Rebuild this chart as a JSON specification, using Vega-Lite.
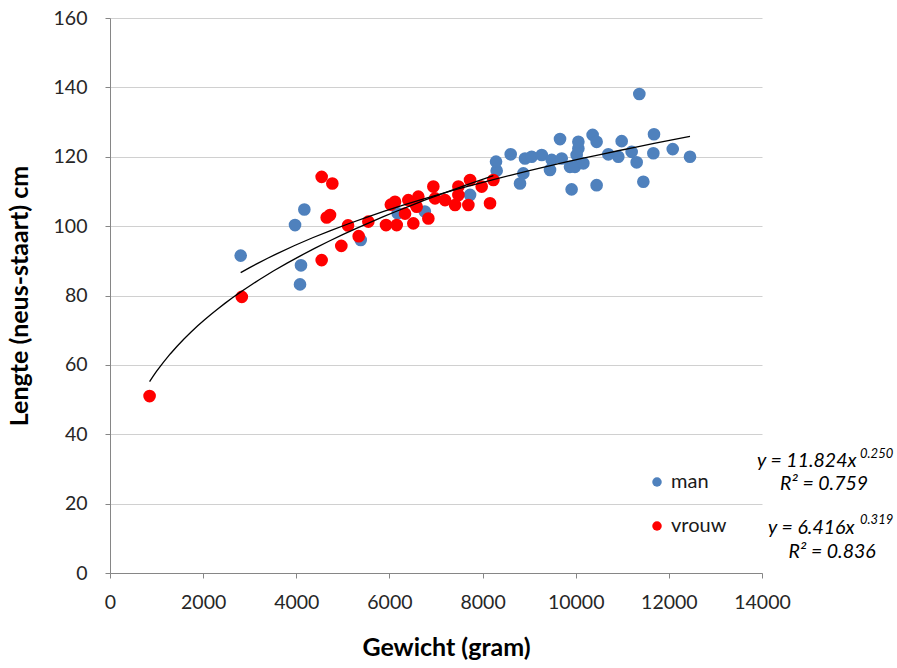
{
  "$schema": "https://vega.github.io/schema/vega-lite/v6.json",
  "width": 652,
  "height": 555,
  "autosize": {"type": "none"},
  "padding": {"left": 110, "top": 18, "right": 135, "bottom": 95},
  "background": "white",
  "config": {
    "view": {"stroke": null},
    "font": "Lato",
    "axis": {
      "labelFont": "Lato",
      "titleFont": "Lato",
      "labelColor": "#262626",
      "titleColor": "#000000",
      "domainColor": "#868686",
      "tickColor": "#868686",
      "gridColor": "#d0d0d0",
      "labelFontSize": 19.5,
      "titleFontSize": 25,
      "titleFontWeight": "bold",
      "labelFlush": false
    }
  },
  "datasets": {
    "dieren": [
      {"geslacht": "man", "gewicht": 2806, "lengte": 91.5},
      {"geslacht": "man", "gewicht": 3973, "lengte": 100.3},
      {"geslacht": "man", "gewicht": 4173, "lengte": 104.8},
      {"geslacht": "man", "gewicht": 4101, "lengte": 88.7},
      {"geslacht": "man", "gewicht": 4080, "lengte": 83.2},
      {"geslacht": "man", "gewicht": 5383, "lengte": 96.0},
      {"geslacht": "man", "gewicht": 6178, "lengte": 103.7},
      {"geslacht": "man", "gewicht": 6760, "lengte": 104.2},
      {"geslacht": "man", "gewicht": 7731, "lengte": 109.0},
      {"geslacht": "man", "gewicht": 8303, "lengte": 116.0},
      {"geslacht": "man", "gewicht": 8289, "lengte": 118.6},
      {"geslacht": "man", "gewicht": 8604, "lengte": 120.7},
      {"geslacht": "man", "gewicht": 8804, "lengte": 112.3},
      {"geslacht": "man", "gewicht": 8875, "lengte": 115.2},
      {"geslacht": "man", "gewicht": 8911, "lengte": 119.5},
      {"geslacht": "man", "gewicht": 9054, "lengte": 120.0},
      {"geslacht": "man", "gewicht": 9270, "lengte": 120.5},
      {"geslacht": "man", "gewicht": 9448, "lengte": 116.2},
      {"geslacht": "man", "gewicht": 9484, "lengte": 119.1},
      {"geslacht": "man", "gewicht": 9663, "lengte": 125.1},
      {"geslacht": "man", "gewicht": 9699, "lengte": 119.5},
      {"geslacht": "man", "gewicht": 9877, "lengte": 117.1},
      {"geslacht": "man", "gewicht": 9912, "lengte": 110.6},
      {"geslacht": "man", "gewicht": 9984, "lengte": 117.1},
      {"geslacht": "man", "gewicht": 10020, "lengte": 120.5},
      {"geslacht": "man", "gewicht": 10057, "lengte": 122.4},
      {"geslacht": "man", "gewicht": 10057, "lengte": 124.3},
      {"geslacht": "man", "gewicht": 10164, "lengte": 118.1},
      {"geslacht": "man", "gewicht": 10363, "lengte": 126.3},
      {"geslacht": "man", "gewicht": 10449, "lengte": 124.3},
      {"geslacht": "man", "gewicht": 10449, "lengte": 111.8},
      {"geslacht": "man", "gewicht": 10700, "lengte": 120.7},
      {"geslacht": "man", "gewicht": 10915, "lengte": 120.0},
      {"geslacht": "man", "gewicht": 10987, "lengte": 124.5},
      {"geslacht": "man", "gewicht": 11201, "lengte": 121.4},
      {"geslacht": "man", "gewicht": 11309, "lengte": 118.4},
      {"geslacht": "man", "gewicht": 11366, "lengte": 138.1},
      {"geslacht": "man", "gewicht": 11452, "lengte": 112.8},
      {"geslacht": "man", "gewicht": 11667, "lengte": 121.0},
      {"geslacht": "man", "gewicht": 11681, "lengte": 126.5},
      {"geslacht": "man", "gewicht": 12083, "lengte": 122.2},
      {"geslacht": "man", "gewicht": 12454, "lengte": 120.0},
      {"geslacht": "vrouw", "gewicht": 850, "lengte": 51.0},
      {"geslacht": "vrouw", "gewicht": 2830, "lengte": 79.6},
      {"geslacht": "vrouw", "gewicht": 4545, "lengte": 114.2},
      {"geslacht": "vrouw", "gewicht": 4774, "lengte": 112.3},
      {"geslacht": "vrouw", "gewicht": 4653, "lengte": 102.5},
      {"geslacht": "vrouw", "gewicht": 4724, "lengte": 103.2},
      {"geslacht": "vrouw", "gewicht": 4545, "lengte": 90.2},
      {"geslacht": "vrouw", "gewicht": 4967, "lengte": 94.3},
      {"geslacht": "vrouw", "gewicht": 5111, "lengte": 100.2},
      {"geslacht": "vrouw", "gewicht": 5340, "lengte": 97.1},
      {"geslacht": "vrouw", "gewicht": 5547, "lengte": 101.3},
      {"geslacht": "vrouw", "gewicht": 5927, "lengte": 100.3},
      {"geslacht": "vrouw", "gewicht": 6156, "lengte": 100.3},
      {"geslacht": "vrouw", "gewicht": 6030, "lengte": 106.2},
      {"geslacht": "vrouw", "gewicht": 6120, "lengte": 107.0},
      {"geslacht": "vrouw", "gewicht": 6406, "lengte": 107.5},
      {"geslacht": "vrouw", "gewicht": 6621, "lengte": 108.5},
      {"geslacht": "vrouw", "gewicht": 6585, "lengte": 105.6},
      {"geslacht": "vrouw", "gewicht": 6549, "lengte": 106.6},
      {"geslacht": "vrouw", "gewicht": 6335, "lengte": 103.6},
      {"geslacht": "vrouw", "gewicht": 6513, "lengte": 100.8},
      {"geslacht": "vrouw", "gewicht": 6836, "lengte": 102.2},
      {"geslacht": "vrouw", "gewicht": 6943, "lengte": 111.4},
      {"geslacht": "vrouw", "gewicht": 6979, "lengte": 108.0},
      {"geslacht": "vrouw", "gewicht": 7194, "lengte": 107.5},
      {"geslacht": "vrouw", "gewicht": 7409, "lengte": 106.1},
      {"geslacht": "vrouw", "gewicht": 7481, "lengte": 111.4},
      {"geslacht": "vrouw", "gewicht": 7481, "lengte": 109.0},
      {"geslacht": "vrouw", "gewicht": 7731, "lengte": 113.3},
      {"geslacht": "vrouw", "gewicht": 7695, "lengte": 106.1},
      {"geslacht": "vrouw", "gewicht": 7981, "lengte": 111.4},
      {"geslacht": "vrouw", "gewicht": 8160, "lengte": 106.6},
      {"geslacht": "vrouw", "gewicht": 8232, "lengte": 113.3}
    ],
    "vergelijkingen": [
      {"hoofd": "y = 11.824x", "exponent": "0.250", "r2": "R² = 0.759", "xh": 13893, "yh": 32.4, "xe": 16105, "ye": 34.4, "xr": 15332, "yr": 25.7},
      {"hoofd": "y = 6.416x", "exponent": "0.319", "r2": "R² = 0.836", "xh": 14130, "yh": 13.0, "xe": 16105, "ye": 15.2, "xr": 15504, "yr": 6.1}
    ]
  },
  "layer": [
    {
      "data": {"name": "dieren"},
      "mark": {"type": "circle", "size": 160, "opacity": 1},
      "encoding": {
        "x": {
          "field": "gewicht", "type": "quantitative",
          "scale": {"domain": [0, 14000], "nice": false},
          "axis": {
            "title": "Gewicht (gram)", "values": [0, 2000, 4000, 6000, 8000, 10000, 12000, 14000],
            "grid": false, "tickSize": 5, "labelPadding": 15, "titlePadding": 24, "format": "d", "titleX": 336
          }
        },
        "y": {
          "field": "lengte", "type": "quantitative",
          "scale": {"domain": [0, 160], "nice": false},
          "axis": {
            "title": "Lengte (neus-staart) cm", "values": [0, 20, 40, 60, 80, 100, 120, 140, 160],
            "grid": true, "tickSize": 5, "labelPadding": 18, "titlePadding": 21
          }
        },
        "color": {
          "field": "geslacht", "type": "nominal",
          "scale": {"domain": ["man", "vrouw"], "range": ["#4F81BD", "#FF0000"]},
          "legend": {
            "title": null, "orient": "none", "legendX": 537, "legendY": 454,
            "symbolType": "circle", "symbolSize": 90, "labelFontSize": 20,
            "labelFont": "Lato", "labelColor": "#1a1a1a", "rowPadding": 24, "labelOffset": 4
          }
        }
      }
    },
    {
      "data": {"name": "dieren"},
      "transform": [
        {"regression": "lengte", "on": "gewicht", "groupby": ["geslacht"], "method": "pow"}
      ],
      "mark": {"type": "line", "color": "#000000", "strokeWidth": 1.3},
      "encoding": {
        "x": {"field": "gewicht", "type": "quantitative"},
        "y": {"field": "lengte", "type": "quantitative"},
        "detail": {"field": "geslacht"}
      }
    },
    {
      "data": {"name": "vergelijkingen"},
      "mark": {"type": "text", "align": "left", "baseline": "middle", "fontStyle": "italic", "fontSize": 19.5, "font": "Lato", "color": "#000000"},
      "encoding": {
        "x": {"field": "xh", "type": "quantitative"},
        "y": {"field": "yh", "type": "quantitative"},
        "text": {"field": "hoofd"}
      }
    },
    {
      "data": {"name": "vergelijkingen"},
      "mark": {"type": "text", "align": "left", "baseline": "middle", "fontStyle": "italic", "fontSize": 13, "font": "Lato", "color": "#000000"},
      "encoding": {
        "x": {"field": "xe", "type": "quantitative"},
        "y": {"field": "ye", "type": "quantitative"},
        "text": {"field": "exponent"}
      }
    },
    {
      "data": {"name": "vergelijkingen"},
      "mark": {"type": "text", "align": "center", "baseline": "middle", "fontStyle": "italic", "fontSize": 19.5, "font": "Lato", "color": "#000000"},
      "encoding": {
        "x": {"field": "xr", "type": "quantitative"},
        "y": {"field": "yr", "type": "quantitative"},
        "text": {"field": "r2"}
      }
    }
  ]
}
